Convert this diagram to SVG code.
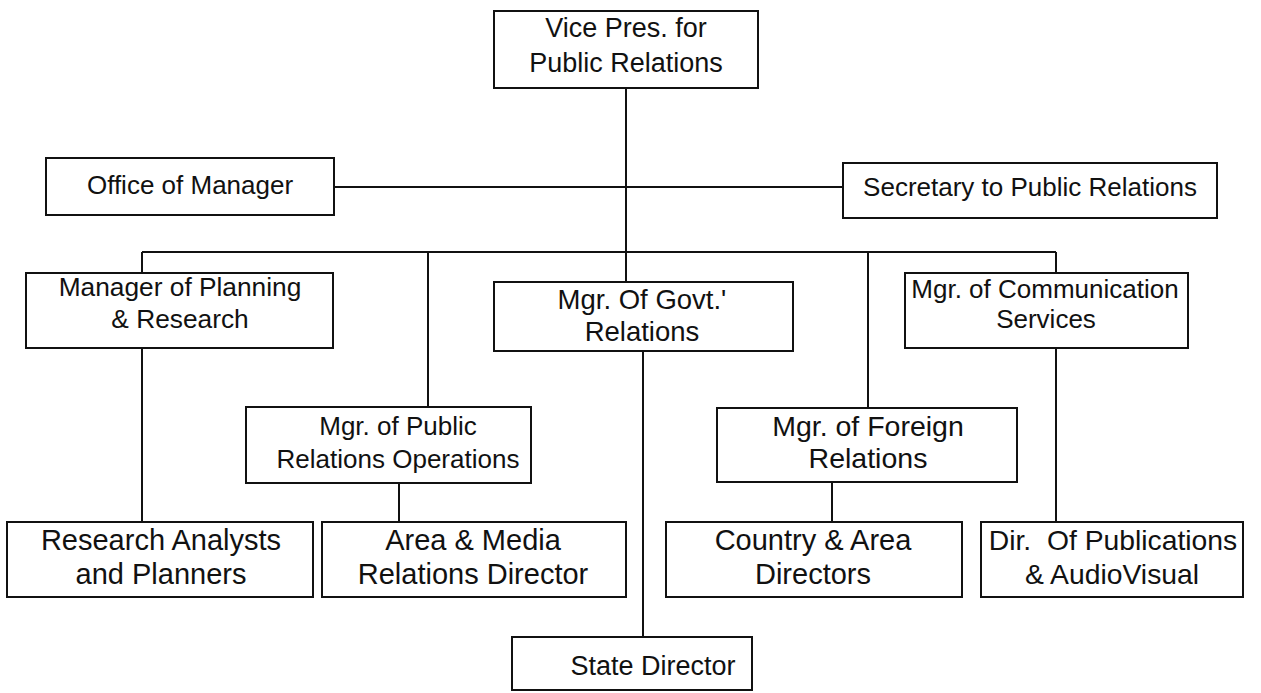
<svg xmlns="http://www.w3.org/2000/svg" width="1261" height="693" viewBox="0 0 1261 693">
<style>
.box{fill:#fff;stroke:#111;stroke-width:2}
.t{font-family:"Liberation Sans",Arial,sans-serif;font-size:26px;fill:#111;text-anchor:middle}
.b{font-size:29px}
.c{stroke:#111;stroke-width:2;fill:none}
</style>
<rect width="1261" height="693" fill="#fff"/>
<g id="connectors">
<line class="c" x1="626" y1="88" x2="626" y2="282"/>
<line class="c" x1="334" y1="187" x2="843" y2="187"/>
<line class="c" x1="142" y1="252" x2="1056" y2="252"/>
<line class="c" x1="142" y1="252" x2="142" y2="273"/>
<line class="c" x1="428" y1="252" x2="428" y2="407"/>
<line class="c" x1="868" y1="252" x2="868" y2="408"/>
<line class="c" x1="1056" y1="252" x2="1056" y2="273"/>
<line class="c" x1="142" y1="348" x2="142" y2="522"/>
<line class="c" x1="399" y1="483" x2="399" y2="522"/>
<line class="c" x1="643" y1="351" x2="643" y2="637"/>
<line class="c" x1="832" y1="482" x2="832" y2="523"/>
<line class="c" x1="1056" y1="348" x2="1056" y2="522"/>
</g>
<g id="vp">
<rect class="box" x="494" y="11" width="264" height="77"/>
<text class="t" style="font-size:27px" x="626" y="37">Vice Pres. for</text>
<text class="t" style="font-size:27px" x="626" y="72">Public Relations</text>
</g>
<g id="office">
<rect class="box" x="46" y="158" width="288" height="57"/>
<text class="t" x="190" y="194">Office of Manager</text>
</g>
<g id="secretary">
<rect class="box" x="843" y="163" width="374" height="55"/>
<text class="t" x="1030" y="196">Secretary to Public Relations</text>
</g>
<g id="planning">
<rect class="box" x="26" y="273" width="307" height="75"/>
<text class="t" style="font-size:26.3px" x="180" y="296">Manager of Planning</text>
<text class="t" style="font-size:26.3px" x="180" y="328">&amp; Research</text>
</g>
<g id="govt">
<rect class="box" x="494" y="282" width="299" height="69"/>
<text class="t" style="font-size:27.5px" x="642" y="309">Mgr. Of Govt.'</text>
<text class="t" style="font-size:27.5px" x="642" y="341">Relations</text>
</g>
<g id="comm">
<rect class="box" x="905" y="273" width="283" height="75"/>
<text class="t" x="1045" y="298">Mgr. of Communication</text>
<text class="t" x="1046" y="328">Services</text>
</g>
<g id="props">
<rect class="box" x="246" y="407" width="285" height="76"/>
<text class="t" x="398" y="435">Mgr. of Public</text>
<text class="t" x="398" y="468">Relations Operations</text>
</g>
<g id="foreign">
<rect class="box" x="717" y="408" width="300" height="74"/>
<text class="t" style="font-size:28.5px" x="868" y="436">Mgr. of Foreign</text>
<text class="t" style="font-size:28.5px" x="868" y="468">Relations</text>
</g>
<g id="research">
<rect class="box" x="7" y="522" width="306" height="75"/>
<text class="t b" x="161" y="550">Research Analysts</text>
<text class="t b" x="161" y="584">and Planners</text>
</g>
<g id="area">
<rect class="box" x="322" y="522" width="304" height="75"/>
<text class="t b" x="473" y="550">Area &amp; Media</text>
<text class="t b" x="473" y="584">Relations Director</text>
</g>
<g id="country">
<rect class="box" x="666" y="522" width="296" height="75"/>
<text class="t b" x="813" y="550">Country &amp; Area</text>
<text class="t b" x="813" y="584">Directors</text>
</g>
<g id="dir">
<rect class="box" x="981" y="522" width="262" height="75"/>
<text class="t" style="font-size:28.3px" x="1113" y="550" xml:space="preserve">Dir.  Of Publications</text>
<text class="t" style="font-size:28.3px" x="1112" y="584">&amp; AudioVisual</text>
</g>
<g id="state">
<rect class="box" x="512" y="637" width="240" height="53"/>
<text class="t" style="font-size:27px" x="653" y="675">State Director</text>
</g>
</svg>
